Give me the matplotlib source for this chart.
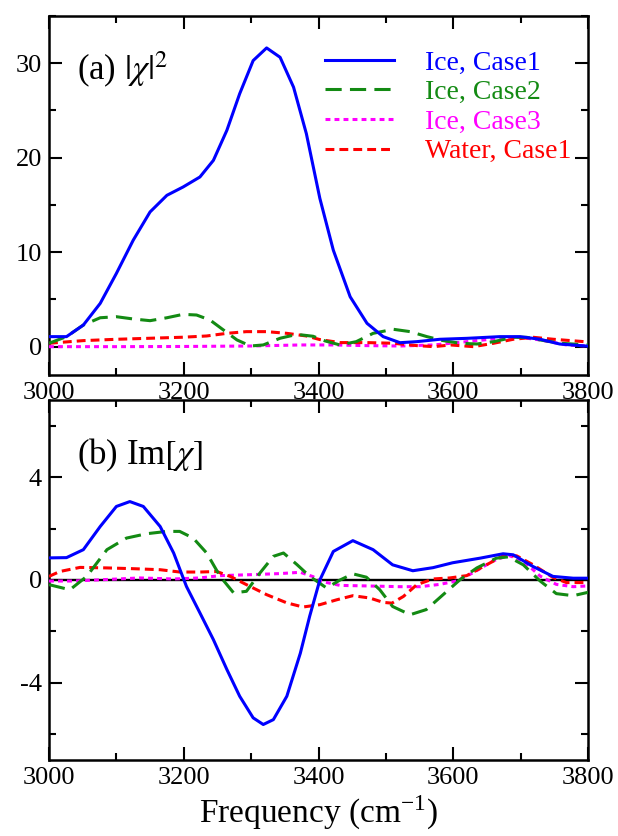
import numpy as np
import matplotlib
matplotlib.use("Agg")
import matplotlib.pyplot as plt
from matplotlib.ticker import MultipleLocator

plt.rcParams['font.family'] = ['Liberation Serif', 'DejaVu Serif']
plt.rcParams['mathtext.fontset'] = 'stix'
plt.rcParams['axes.unicode_minus'] = False

# ---------------- data ----------------
# (a) |chi|^2
a_ice1_x = [3000, 3026, 3051, 3076, 3100, 3125, 3150, 3175, 3199, 3224, 3244, 3264, 3283, 3303,
            3323, 3343, 3363, 3382, 3402, 3422, 3447, 3472, 3496, 3521, 3546, 3580, 3620, 3669,
            3699, 3729, 3758, 3800]
a_ice1_y = [1.06, 1.06, 2.29, 4.58, 7.75, 11.27, 14.26, 16.02, 16.9, 17.96, 19.72, 22.9, 26.77, 30.28,
            31.62, 30.63, 27.46, 22.54, 15.7, 10.21, 5.28, 2.47, 1.06, 0.42, 0.53, 0.78, 0.88, 1.06,
            1.06, 0.78, 0.28, 0.05]

a_ice2_x = [3000, 3026, 3051, 3076, 3100, 3125, 3150, 3175, 3199, 3219, 3239, 3259, 3279, 3299,
            3318, 3343, 3368, 3392, 3410, 3432, 3456, 3481, 3511, 3536, 3561, 3585, 3610, 3635,
            3660, 3689, 3709, 3729, 3759, 3800]
a_ice2_y = [0.36, 1.06, 2.29, 3.06, 3.17, 2.93, 2.75, 3.06, 3.42, 3.35, 2.82, 1.76, 0.71, 0.07,
            0.18, 0.89, 1.3, 1.1, 0.6, 0.18, 0.53, 1.41, 1.84, 1.59, 1.06, 0.64, 0.36, 0.28,
            0.53, 0.99, 0.99, 0.71, 0.36, 0.18]

a_ice3_x = [3000, 3100, 3200, 3300, 3373, 3422, 3472, 3521, 3571, 3620, 3669, 3699, 3729, 3768, 3800]
a_ice3_y = [0.0, 0.0, 0.02, 0.07, 0.18, 0.18, 0.11, 0.07, 0.18, 0.53, 0.88, 0.99, 0.71, 0.18, 0.07]

a_wat1_x = [3000, 3051, 3100, 3150, 3199, 3234, 3264, 3293, 3323, 3353, 3382, 3402, 3432, 3472,
            3511, 3546, 3571, 3596, 3630, 3660, 3689, 3719, 3749, 3800]
a_wat1_y = [0.36, 0.64, 0.78, 0.89, 1.0, 1.13, 1.41, 1.59, 1.59, 1.41, 1.13, 0.75, 0.43, 0.43,
            0.36, 0.11, 0.0, 0.18, 0.0, 0.36, 0.78, 0.99, 0.78, 0.5]

# (b) Im[chi]
b_ice1_x = [3000, 3026, 3051, 3076, 3100, 3120, 3140, 3165, 3185, 3204, 3224, 3244, 3264, 3283,
            3303, 3318, 3333, 3353, 3373, 3387, 3402, 3422, 3451, 3481, 3510, 3540, 3570, 3599,
            3640, 3674, 3689, 3718, 3748, 3778, 3800]
b_ice1_y = [0.86, 0.87, 1.18, 2.08, 2.86, 3.05, 2.86, 2.08, 1.05, -0.25, -1.28, -2.32, -3.48, -4.52,
            -5.36, -5.62, -5.43, -4.52, -2.85, -1.4, 0.0, 1.11, 1.53, 1.18, 0.59, 0.36, 0.48, 0.67,
            0.85, 1.02, 0.98, 0.53, 0.14, 0.07, 0.07]

b_ice2_x = [3000, 3031, 3056, 3086, 3115, 3145, 3175, 3194, 3214, 3234, 3254, 3274, 3293, 3313,
            3333, 3348, 3368, 3387, 3412, 3432, 3451, 3471, 3491, 3510, 3536, 3560, 3585, 3610,
            3635, 3664, 3682, 3704, 3729, 3753, 3778, 3800]
b_ice2_y = [-0.18, -0.38, 0.14, 1.18, 1.63, 1.8, 1.89, 1.89, 1.63, 1.05, 0.14, -0.5, -0.44, 0.27,
            0.92, 1.05, 0.6, 0.14, -0.31, 0.0, 0.24, 0.11, -0.38, -1.03, -1.35, -1.15, -0.57, 0.01,
            0.47, 0.85, 0.9, 0.59, -0.04, -0.53, -0.61, -0.48]

b_ice3_x = [3000, 3036, 3086, 3135, 3185, 3224, 3254, 3303, 3343, 3373, 3392, 3402, 3432, 3471,
            3521, 3551, 3580, 3605, 3630, 3659, 3682, 3704, 3729, 3753, 3778, 3800]
b_ice3_y = [-0.04, -0.04, 0.02, 0.08, 0.04, 0.08, 0.17, 0.21, 0.25, 0.3, 0.13, -0.04, -0.21, -0.23,
            -0.26, -0.26, -0.17, -0.04, 0.29, 0.74, 0.96, 0.74, 0.15, -0.17, -0.26, -0.23]

b_wat1_x = [3000, 3016, 3046, 3086, 3125, 3165, 3194, 3224, 3249, 3269, 3293, 3323, 3353, 3377,
            3402, 3427, 3451, 3476, 3496, 3509, 3526, 3546, 3570, 3595, 3620, 3650, 3674, 3694,
            3718, 3748, 3768, 3800]
b_wat1_y = [0.14, 0.33, 0.49, 0.47, 0.44, 0.4, 0.31, 0.31, 0.33, 0.14, -0.18, -0.57, -0.89, -1.05,
            -0.96, -0.77, -0.61, -0.7, -0.87, -0.9, -0.64, -0.18, 0.04, 0.08, 0.17, 0.6, 0.94, 0.94,
            0.6, 0.1, -0.1, -0.1]

labels = ["Ice, Case1", "Ice, Case2", "Ice, Case3", "Water, Case1"]
colors = ["#0000ff", "#138a13", "#ff00ff", "#ff0000"]

# ---------------- figure ----------------
fig = plt.figure(figsize=(6.18, 8.36), dpi=100)
W, H = 618, 836
def rect(l, t, r, b):
    return [l / W, 1 - b / H, (r - l) / W, (b - t) / H]

ax1 = fig.add_axes(rect(49, 16, 588, 375))
ax2 = fig.add_axes(rect(49, 400, 588, 760))

lw = 2.2
styles = [dict(ls='-', lw=lw),
          dict(ls=(0, (5.3, 2.7)), lw=lw),
          dict(ls=(0, (1.6, 1.35)), lw=lw),
          dict(ls=(0, (2.9, 1.65)), lw=lw)]

a_data = [(a_ice1_x, a_ice1_y), (a_ice2_x, a_ice2_y), (a_ice3_x, a_ice3_y), (a_wat1_x, a_wat1_y)]
b_data = [(b_ice1_x, b_ice1_y), (b_ice2_x, b_ice2_y), (b_ice3_x, b_ice3_y), (b_wat1_x, b_wat1_y)]

order = [2, 3, 1, 0]
for i in order:
    x, y = a_data[i]
    ax1.plot(x, y, color=colors[i], label=labels[i], zorder=3 + (i == 0), **styles[i])
ax2.axhline(0, color='black', lw=1.7, zorder=2)
for i in order:
    x, y = b_data[i]
    ax2.plot(x, y, color=colors[i], zorder=3, **styles[i])

for ax in (ax1, ax2):
    ax.set_xlim(3000, 3800)
    ax.xaxis.set_major_locator(MultipleLocator(200))
    ax.xaxis.set_minor_locator(MultipleLocator(100))
    ax.tick_params(which='both', direction='in', top=True, right=True, width=1.5,
                   labelsize=19, pad=5)
    ax.tick_params(which='major', length=9.5)
    ax.tick_params(which='minor', length=5)
    for s in ax.spines.values():
        s.set_linewidth(1.8)

ax1.set_ylim(-3, 35)
ax1.yaxis.set_major_locator(MultipleLocator(10))
ax1.yaxis.set_minor_locator(MultipleLocator(5))

ax2.set_ylim(-7, 7)
ax2.yaxis.set_major_locator(MultipleLocator(4))
ax2.yaxis.set_minor_locator(MultipleLocator(2))

ax1.text(0.052, 0.822, r"(a) $|\chi|^2$", transform=ax1.transAxes, fontsize=25)
ax2.text(0.052, 0.822, r"(b) Im$[\chi]$", transform=ax2.transAxes, fontsize=25)

ax2.set_xlabel(r"Frequency (cm$^{\mathregular{-1}}$)", fontsize=24, labelpad=3)

handles, labs = ax1.get_legend_handles_labels()
hmap = dict(zip(labs, handles))
leg = ax1.legend([hmap[l] for l in labels], labels, loc='upper left',
                 bbox_to_anchor=(0.512, 0.905), frameon=False, fontsize=20,
                 handlelength=2.5, handletextpad=1.1, labelspacing=0.15,
                 borderpad=0, borderaxespad=0)
for t, c in zip(leg.get_texts(), colors):
    t.set_color(c)

fig.savefig("out.png", dpi=100)
